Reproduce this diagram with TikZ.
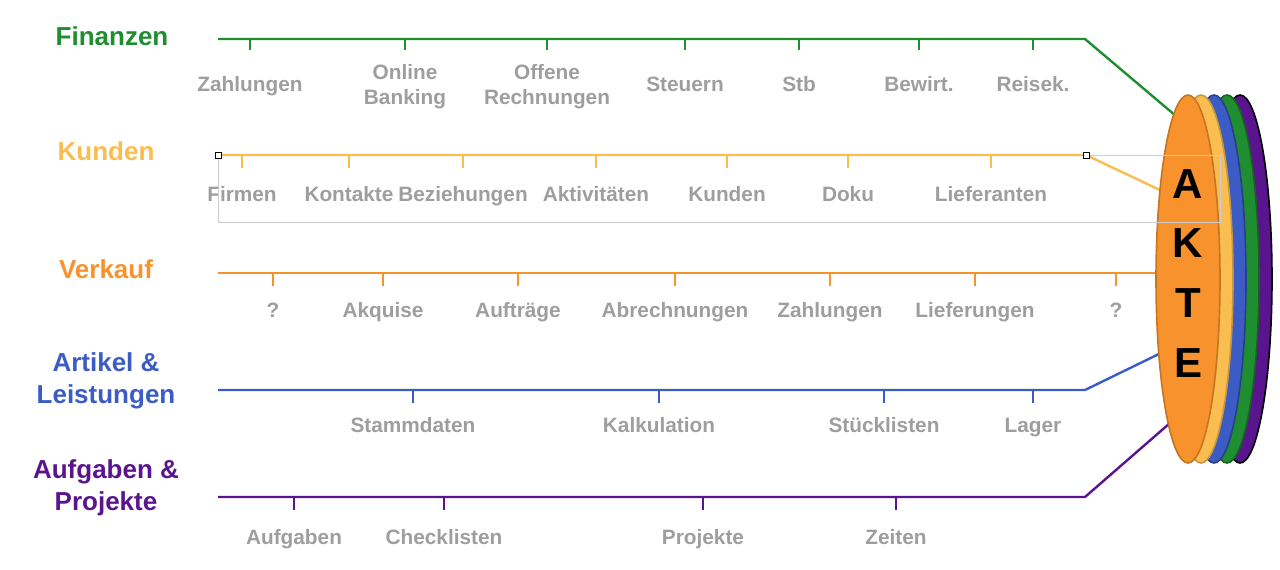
\documentclass[tikz,border=0pt]{standalone}
\usepackage{fontspec}
\setmainfont{Liberation Sans}
\usetikzlibrary{shapes.geometric}

\definecolor{fincol}{RGB}{31,142,48}
\definecolor{kuncol}{RGB}{249,189,80}
\definecolor{verkcol}{RGB}{247,146,45}
\definecolor{artcol}{RGB}{59,92,196}
\definecolor{aufcol}{RGB}{90,20,142}
\definecolor{itemgray}{RGB}{158,158,158}

\begin{document}
\begin{tikzpicture}[
x=0.5pt, y=-0.5pt,
line/.style={draw, line width=1.2pt},
head/.style={font=\bfseries\fontsize{13}{16}\selectfont, align=center, anchor=base},
item/.style={font=\bfseries\fontsize{10.4}{12.5}\selectfont, text=itemgray, align=center, anchor=base, inner sep=0pt},
disc/.style={line width=0.8pt},
letter/.style={font=\bfseries\fontsize{21}{21}\selectfont, anchor=base},
]
\useasboundingbox (0,0) rectangle (1280,569);

%headings
\node[head, text=fincol] (hfin) at (112,45) {Finanzen};
\node[head, text=kuncol] (hkun) at (106,160) {Kunden};
\node[head, text=verkcol] (hverk) at (106,278) {Verkauf};
\node[head, text=artcol] (hart) at (106,403) {Artikel \&\\Leistungen};
\node[head, text=aufcol] (hauf) at (106,510) {Aufgaben \&\\Projekte};

%Finanzen
\coordinate (fin0) at (218,39);
\coordinate (fin8) at (1085,39);
\coordinate (finend) at (1176,116);
\path[line, fincol] (fin0) -- (fin8) -- (finend);
\foreach \x in {250, 405, 547, 685, 799, 919, 1033}{
	\path[line, fincol] (\x,39) -- (\x,50);
}
\node[item] (fin1) at (250,91) {Zahlungen};
\node[item] (fin2) at (405,104) {Online\\Banking};
\node[item] (fin3) at (547,104) {Offene\\Rechnungen};
\node[item] (fin4) at (685,91) {Steuern};
\node[item] (fin5) at (799,91) {Stb};
\node[item] (fin6) at (919,91) {Bewirt.};
\node[item] (fin7) at (1033,91) {Reisek.};

%Kunden
\coordinate (kun0) at (218,155);
\coordinate (kun8) at (1086,155);
\coordinate (kunend) at (1162,191);
\path[line, kuncol] (kun0) -- (kun8) -- (kunend);
\foreach \x/\t [count=\i] in {242/Firmen, 349/Kontakte, 463/Beziehungen, 596/Aktivitäten, 727/Kunden, 848/Doku, 991/Lieferanten}{
	\path[line, kuncol] (\x,155) -- (\x,168);
	\node[item] (kun\i) at (\x,201) {\t};
}

%Verkauf
\coordinate (verk0) at (218,273);
\coordinate (verkend) at (1165,273);
\path[line, verkcol] (verk0) -- (verkend);
\foreach \x/\t [count=\i] in {273/?, 383/Akquise, 518/Aufträge, 675/Abrechnungen, 830/Zahlungen, 975/Lieferungen, 1116/?}{
	\path[line, verkcol] (\x,273) -- (\x,286);
	\node[item] (verk\i) at (\x,317) {\t};
}

%Artikel
\coordinate (art0) at (218,390);
\coordinate (art5) at (1085,390);
\coordinate (artend) at (1163,352);
\path[line, artcol] (art0) -- (art5) -- (artend);
\foreach \x/\t [count=\i] in {413/Stammdaten, 659/Kalkulation, 884/Stücklisten, 1033/Lager}{
	\path[line, artcol] (\x,390) -- (\x,403);
	\node[item] (art\i) at (\x,432) {\t};
}

%Aufgaben
\coordinate (auf0) at (218,497);
\coordinate (auf5) at (1085,497);
\coordinate (aufend) at (1170,423);
\path[line, aufcol] (auf0) -- (auf5) -- (aufend);
\foreach \x/\t [count=\i] in {294/Aufgaben, 444/Checklisten, 703/Projekte, 896/Zeiten}{
	\path[line, aufcol] (\x,497) -- (\x,510);
	\node[item] (auf\i) at (\x,544) {\t};
}

%akte
\path[disc, draw=black, fill=aufcol] (1240,279) ellipse [x radius=32, y radius=184];
\path[disc, draw=fincol!70!black, fill=fincol] (1227,279) ellipse [x radius=32, y radius=184];
\path[disc, draw=artcol!70!black, fill=artcol] (1214,279) ellipse [x radius=32, y radius=184];
\path[disc, draw=kuncol!80!black, fill=kuncol] (1201,279) ellipse [x radius=32, y radius=184];
\path[disc, draw=verkcol!80!black, fill=verkcol] (1188,279) ellipse [x radius=32, y radius=184];
\node[letter] (akA) at (1188,198) {A};
\node[letter] (akK) at (1188,257) {K};
\node[letter] (akT) at (1188,317) {T};
\node[letter] (akE) at (1188,377) {E};

%selection
\path[draw=black!20, line width=0.5pt] (kun0) -- (218,222) -- (1220,222) -- (1220,155) -- (kun8);
\path[draw=black, fill=white, line width=0.4pt] (215,152) rectangle (221,158);
\path[draw=black, fill=white, line width=0.4pt] (1083,152) rectangle (1089,158);

\end{tikzpicture}
\end{document}
